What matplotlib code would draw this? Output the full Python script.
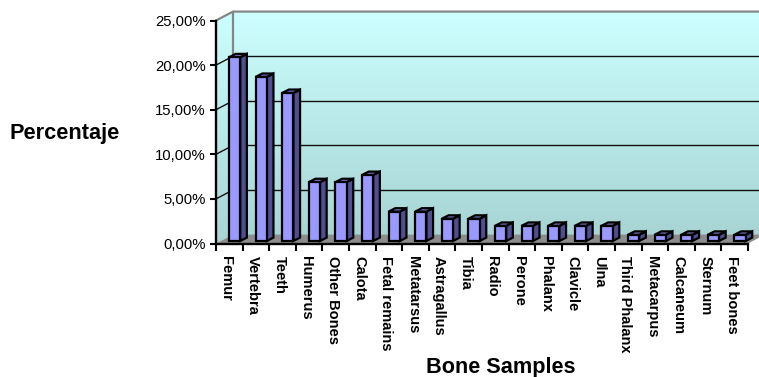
import numpy as np
import matplotlib
matplotlib.use("Agg")
import matplotlib.pyplot as plt
from matplotlib.patches import Polygon
from matplotlib.colors import LinearSegmentedColormap
from matplotlib.transforms import ScaledTranslation

plt.rcParams['font.family'] = ['Liberation Sans', 'DejaVu Sans']

categories = ["Femur", "Vertebra", "Teeth", "Humerus", "Other Bones", "Calota",
              "Fetal remains", "Metatarsus", "Astragallus", "Tibia", "Radio",
              "Perone", "Phalanx", "Clavicle", "Ulna", "Third Phalanx",
              "Metacarpus", "Calcaneum", "Sternum", "Feet bones"]
values = [20.6, 18.4, 16.6, 6.6, 6.6, 7.4, 3.3, 3.3, 2.5, 2.5, 1.7,
          1.7, 1.7, 1.7, 1.7, 0.7, 0.7, 0.7, 0.7, 0.7]
y_ticks = [0, 5, 10, 15, 20, 25]
y_labels = ["0,00%", "5,00%", "10,00%", "15,00%", "20,00%", "25,00%"]

W, H = 759, 377
fig = plt.figure(figsize=(W / 100, H / 100), dpi=100, facecolor="white")
L, R, T, B = 216, 748, 20.5, 243.5
ax = fig.add_axes([L / W, 1 - B / H, (R - L) / W, (B - T) / H])
n = len(categories)
ax.set_xlim(-0.5, n - 0.5)
ax.set_ylim(0, 25)

DX, DY = 0.64, 1.0      # chart depth
x0, x1 = -0.5, n - 0.5
cmap = LinearSegmentedColormap.from_list("wall", ["#CCFFFF", "#A8D4D4"])
grad = np.linspace(0, 1, 256).reshape(-1, 1)

# walls
back = Polygon([(x0 + DX, DY), (x1 + DX, DY), (x1 + DX, 25 + DY), (x0 + DX, 25 + DY)],
               transform=ax.transData, fc="none", ec="none", clip_on=False)
side = Polygon([(x0, 0), (x0 + DX, DY), (x0 + DX, 25 + DY), (x0, 25)],
               transform=ax.transData, fc="none", ec="none", clip_on=False)
ax.add_patch(back)
ax.add_patch(side)
for poly, ext in [(back, (x0 + DX, x1 + DX, DY, 25 + DY)), (side, (x0, x0 + DX, 0, 25 + DY))]:
    im = ax.imshow(grad, cmap=cmap, extent=ext, aspect="auto", zorder=1)
    im.set_clip_path(poly)
    im.set_clip_box(fig.bbox)
ax.set_xlim(-0.5, n - 0.5)
ax.set_ylim(0, 25)

# floor
ax.add_patch(Polygon([(x0, 0), (x1, 0), (x1 + DX, DY), (x0 + DX, DY)],
                     fc="#8C8C8C", ec="none", zorder=2, clip_on=False))

# gridlines on back and left wall
for v in y_ticks[1:-1]:
    ax.plot([x0 + DX, x1 + DX], [v + DY, v + DY], color="#111111", lw=1.0, zorder=2, clip_on=False)
for v in y_ticks[1:-1]:
    ax.plot([x0, x0 + DX], [v, v + DY], color="#111111", lw=1.0, zorder=2, clip_on=False)

# wall outline
ax.plot([x0, x0 + DX, x1 + DX], [25, 25 + DY, 25 + DY], color="#868686", lw=1.6, zorder=3, clip_on=False)
ax.plot([x0 + DX, x0 + DX], [DY, 25 + DY], color="#868686", lw=1.6, zorder=3, clip_on=False)

# bars
bw, off_x, off_y = 0.42, 0.2, 0.28
ddx, ddy = 0.25, 0.38
xs = np.arange(n) + off_x
ax.bar(xs, values, width=bw, bottom=off_y, color="#9999FF", edgecolor="black", lw=1.6, zorder=5, clip_on=False)
for x, v in zip(xs, values):
    top = v + off_y
    r, l = x + bw / 2, x - bw / 2
    ax.add_patch(Polygon([(r, off_y), (r + ddx, off_y + ddy), (r + ddx, top + ddy), (r, top)],
                         fc="#4F4F8F", ec="black", lw=1.6, zorder=4, clip_on=False))
    ax.add_patch(Polygon([(l, top), (r, top), (r + ddx, top + ddy), (l + ddx, top + ddy)],
                         fc="#7A7AC8", ec="black", lw=1.6, zorder=4, clip_on=False))

# axes
for s in ["top", "right"]:
    ax.spines[s].set_visible(False)
for s in ["left", "bottom"]:
    ax.spines[s].set_linewidth(1.7)
    ax.spines[s].set_zorder(6)
    ax.spines[s].set_capstyle("projecting")
ax.set_yticks(y_ticks)
ax.set_yticklabels(y_labels, fontsize=10.7)
ax.set_xticks(np.arange(n + 1) - 0.5)
ax.set_xticklabels([])
ax.set_xticks(np.arange(n), minor=True)
ax.set_xticklabels(categories, minor=True, rotation=270, fontsize=10.5, fontweight="bold",
                   va="top", ha="center")
ax.tick_params(axis="x", which="minor", length=0, pad=9)
ax.tick_params(axis="x", which="major", length=5, width=1.5, color="black")
ax.tick_params(axis="y", length=4.5, width=1.5, pad=3)
shift = ScaledTranslation(-3 / 100, 0, fig.dpi_scale_trans)
for t in ax.get_xticklabels(minor=True):
    t.set_transform(t.get_transform() + shift)

fig.text(64.5 / W, 1 - 133.5 / H, "Percentaje", fontsize=15.7, fontweight="bold", ha="center", va="center")
fig.text(500.5 / W, 1 - 367 / H, "Bone Samples", fontsize=15.6, fontweight="bold", ha="center", va="center")

fig.savefig("out.png", dpi=100)
